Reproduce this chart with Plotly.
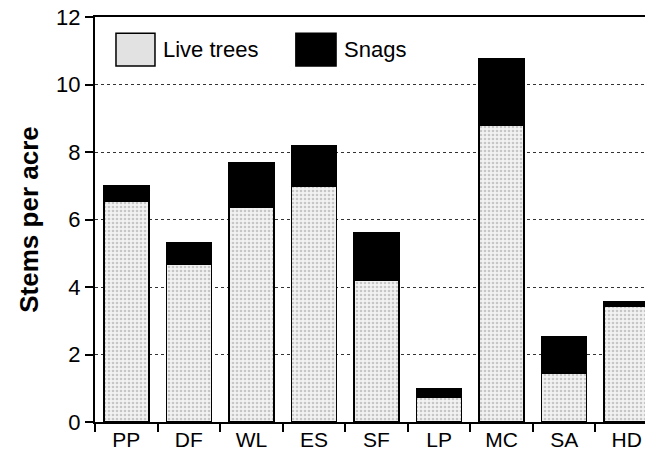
import plotly.graph_objects as go

categories = ["PP", "DF", "WL", "ES", "SF", "LP", "MC", "SA", "HD"]
live_trees = [6.55, 4.66, 6.37, 7.0, 4.2, 0.73, 8.8, 1.43, 3.43]
snags = [0.45, 0.64, 1.30, 1.19, 1.42, 0.25, 1.95, 1.11, 0.14]
y_ticks = [0, 2, 4, 6, 8, 10, 12]

FONT = "Liberation Sans"

fig = go.Figure()
fig.add_trace(go.Bar(
    x=categories, y=live_trees, name="Live trees",
    marker=dict(color="#f2f2f2",
                line=dict(color="black", width=1.5),
                pattern=dict(shape=".", fgcolor="#9a9a9a", size=4, solidity=0.35)),
    width=0.72, showlegend=False,
))
fig.add_trace(go.Bar(
    x=categories, y=snags, name="Snags",
    marker=dict(color="black", line=dict(color="black", width=1.5)),
    width=0.72, showlegend=False,
))

# legend drawn manually (large swatches)
fig.add_shape(type="rect", xref="paper", yref="y", x0=0.0376, x1=0.1075, y0=10.55, y1=11.52,
              fillcolor="#e2e2e2", line=dict(color="black", width=1.5))
fig.add_shape(type="rect", xref="paper", yref="y", x0=0.360, x1=0.432, y0=10.55, y1=11.52,
              fillcolor="black", line=dict(color="black", width=1.5))
fig.add_annotation(x=0.118, xref="paper", y=11.04, yref="y", text="Live trees", showarrow=False,
                   xanchor="left", yanchor="middle", font=dict(family=FONT, size=22, color="black"))
fig.add_annotation(x=0.442, xref="paper", y=11.04, yref="y", text="Snags", showarrow=False,
                   xanchor="left", yanchor="middle", font=dict(family=FONT, size=22, color="black"))

# page body has an 8px margin, so the figure is sized to fit the window
fig.update_layout(
    width=645, height=444,
    margin=dict(l=87, r=0, t=9, b=29.5),
    barmode="stack",
    plot_bgcolor="white", paper_bgcolor="white",
    font=dict(family=FONT, size=21, color="black"),
)
fig.update_xaxes(
    type="category", range=[-0.5, 8.42], automargin=False,
    tickson="boundaries", ticks="outside", ticklen=8, tickwidth=1.5, tickcolor="black",
    ticklabelstandoff=-2, ticklabeloverflow="allow",
    showline=True, linecolor="black", linewidth=2, mirror=True,
    showgrid=False, tickfont=dict(size=21),
)
fig.update_yaxes(
    range=[0, 12], tickvals=y_ticks, ticktext=[str(v) for v in y_ticks], automargin=False,
    ticks="outside", ticklen=8, tickwidth=1.5, tickcolor="black",
    ticklabeloverflow="allow",
    showline=True, linecolor="black", linewidth=2,
    showgrid=True, gridcolor="#333333", gridwidth=1, griddash="3px,3px",
    zeroline=False, tickfont=dict(size=22),
    title=dict(text="<b>Stems per acre</b>", font=dict(size=26), standoff=10),
)

fig.write_html("out.html")
